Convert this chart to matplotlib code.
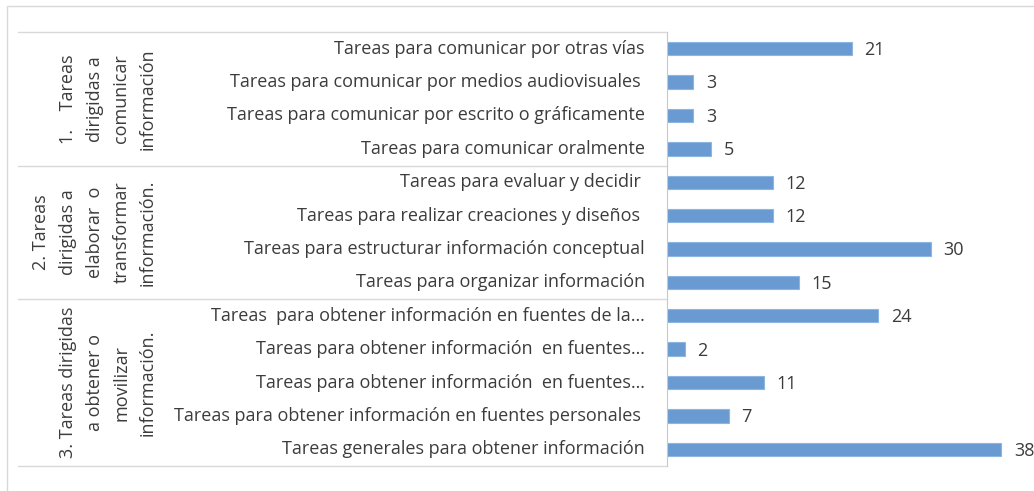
import matplotlib.pyplot as plt
from matplotlib.patches import Rectangle
import matplotlib.transforms as mtransforms

# categorias (de arriba hacia abajo)
tareas = ['Tareas para comunicar por otras vías',
          'Tareas para comunicar por medios audiovisuales ',
          'Tareas para comunicar por escrito o gráficamente',
          'Tareas para comunicar oralmente',
          'Tareas para evaluar y decidir ',
          'Tareas para realizar creaciones y diseños ',
          'Tareas para estructurar información conceptual',
          'Tareas para organizar información',
          'Tareas  para obtener información en fuentes de la…',
          'Tareas para obtener información  en fuentes…',
          'Tareas para obtener información  en fuentes…',
          'Tareas para obtener información en fuentes personales ',
          'Tareas generales para obtener información']
valores = [21, 3, 3, 5, 12, 12, 30, 15, 24, 2, 11, 7, 38]

grupos = ['1.    Tareas\ndirigidas a\ncomunicar\ninformación',
          '2. Tareas\ndirigidas a\nelaborar  o\ntransformar\ninformación.',
          '3. Tareas dirigidas\na obtener o\nmovilizar\ninformación.']
n_grupo = [4, 4, 5]

plt.rcParams['font.family'] = ['Open Sans', 'DejaVu Sans']
gris = '#3C3C3C'
W, H = 1034, 491

fig = plt.figure(figsize=(W/100, H/100), dpi=100)
ax = fig.add_axes([667/W, 1-466/H, (1019-667)/W, (466-32)/H])

y = list(range(len(tareas)))
ax.barh(y, valores, height=0.4, color='#699BD2', edgecolor='#8DB5E1', linewidth=0.8)
for yi, v in zip(y, valores):
    ax.annotate(str(v), (v, yi), xytext=(9, -1), textcoords='offset points',
                va='center', ha='left', fontsize=13, color=gris, annotation_clip=False)

ax.set_xlim(0, 40)
ax.set_ylim(len(tareas)-0.5, -0.5)
ax.set_xticks([])
ax.set_yticks([])
for s in ['top', 'right', 'bottom']:
    ax.spines[s].set_visible(False)
ax.spines['left'].set_color('#C8C8C8')

# etiquetas de categoria
trans = mtransforms.blended_transform_factory(fig.transFigure, ax.transData)
for yi, t in zip(y, tareas):
    ax.text(645/W, yi, t, transform=trans, ha='right', va='center',
            fontsize=13, color=gris)

# lineas de separacion de grupos y textos de grupo
lim = [-0.5]
for n in n_grupo:
    lim.append(lim[-1] + n)
for b in lim:
    ax.plot([18/W, 667/W], [b, b], transform=trans, color='#D9D9D9',
            lw=1, clip_on=False)
for g, a, b in zip(grupos, lim[:-1], lim[1:]):
    ax.text(157/W, (a+b)/2, g, transform=trans, rotation=90, ha='right',
            va='center', multialignment='center', fontsize=13, color=gris,
            linespacing=1.62)

# marco exterior
fig.add_artist(Rectangle((7/W, -0.1), 1.2, 1-6/H+0.1, transform=fig.transFigure,
                         fill=False, edgecolor='#D9D9D9', lw=1))

fig.savefig('out.png', dpi=100)
